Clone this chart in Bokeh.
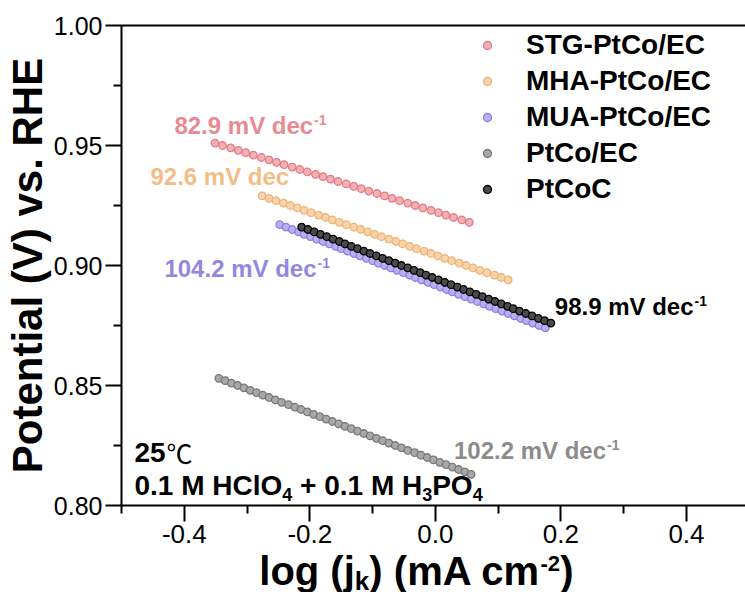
from bokeh.plotting import figure
from bokeh.layouts import column
from bokeh.models import (Range1d, FixedTicker, PrintfTickFormatter, LinearAxis,
                          Label, Legend, LegendItem, ColumnDataSource)
from bokeh.embed import file_html
from bokeh.resources import INLINE

# ---------------- data ----------------
stg_x = [-0.351, -0.339, -0.326, -0.314, -0.302, -0.290, -0.277, -0.265, -0.253, -0.241,
         -0.228, -0.216, -0.204, -0.191, -0.179, -0.167, -0.155, -0.142, -0.130, -0.118,
         -0.106, -0.093, -0.081, -0.069, -0.057, -0.044, -0.032, -0.020, -0.007, 0.005,
         0.017, 0.029, 0.042, 0.054]
stg_y = [0.951, 0.950, 0.949, 0.948, 0.947, 0.946, 0.945, 0.944, 0.943, 0.942,
         0.941, 0.940, 0.939, 0.938, 0.937, 0.936, 0.935, 0.934, 0.933, 0.932,
         0.931, 0.930, 0.929, 0.928, 0.927, 0.926, 0.925, 0.924, 0.923, 0.922,
         0.921, 0.920, 0.919, 0.918]

mha_x = [-0.276, -0.265, -0.254, -0.242, -0.231, -0.220, -0.209, -0.198, -0.186, -0.175,
         -0.164, -0.153, -0.142, -0.130, -0.119, -0.108, -0.097, -0.086, -0.074, -0.063,
         -0.052, -0.041, -0.030, -0.018, -0.007, 0.004, 0.015, 0.026, 0.038, 0.049,
         0.060, 0.071, 0.082, 0.094, 0.105, 0.116]
mha_y = [0.929, 0.928, 0.927, 0.926, 0.925, 0.924, 0.923, 0.922, 0.921, 0.920,
         0.919, 0.918, 0.917, 0.916, 0.915, 0.914, 0.913, 0.912, 0.911, 0.910,
         0.909, 0.908, 0.907, 0.906, 0.905, 0.904, 0.903, 0.902, 0.901, 0.900,
         0.899, 0.898, 0.897, 0.896, 0.895, 0.894]

mua_x = [-0.248, -0.238, -0.228, -0.218, -0.209, -0.199, -0.189, -0.179, -0.169, -0.159,
         -0.150, -0.140, -0.130, -0.120, -0.110, -0.100, -0.091, -0.081, -0.071, -0.061,
         -0.051, -0.041, -0.032, -0.022, -0.012, -0.002, 0.008, 0.018, 0.027, 0.037,
         0.047, 0.057, 0.067, 0.077, 0.086, 0.096, 0.106, 0.116, 0.126, 0.136,
         0.145, 0.155, 0.165, 0.175]
mua_y = [0.917, 0.916, 0.915, 0.914, 0.913, 0.912, 0.911, 0.910, 0.909, 0.908,
         0.907, 0.906, 0.905, 0.904, 0.903, 0.902, 0.901, 0.900, 0.899, 0.898,
         0.897, 0.896, 0.895, 0.894, 0.893, 0.892, 0.891, 0.890, 0.889, 0.888,
         0.887, 0.886, 0.885, 0.884, 0.883, 0.882, 0.881, 0.880, 0.879, 0.878,
         0.877, 0.876, 0.875, 0.874]

ptcoec_x = [-0.345, -0.335, -0.325, -0.315, -0.305, -0.295, -0.285, -0.275, -0.265, -0.255,
            -0.245, -0.234, -0.224, -0.214, -0.204, -0.194, -0.184, -0.174, -0.164, -0.154,
            -0.144, -0.134, -0.124, -0.114, -0.104, -0.094, -0.084, -0.074, -0.064, -0.054,
            -0.044, -0.033, -0.023, -0.013, -0.003, 0.007, 0.017, 0.027, 0.037, 0.047,
            0.057]
ptcoec_y = [0.853, 0.852, 0.851, 0.850, 0.849, 0.848, 0.847, 0.846, 0.845, 0.844,
            0.843, 0.842, 0.841, 0.840, 0.839, 0.838, 0.837, 0.836, 0.835, 0.834,
            0.833, 0.832, 0.831, 0.830, 0.829, 0.828, 0.827, 0.826, 0.825, 0.824,
            0.823, 0.822, 0.821, 0.820, 0.819, 0.818, 0.817, 0.816, 0.815, 0.814,
            0.813]

ptcoc_x = [-0.213, -0.203, -0.193, -0.183, -0.173, -0.163, -0.153, -0.144, -0.134, -0.124,
           -0.114, -0.104, -0.094, -0.084, -0.074, -0.064, -0.054, -0.044, -0.034, -0.024,
           -0.015, -0.005, 0.005, 0.015, 0.025, 0.035, 0.045, 0.055, 0.065, 0.075,
           0.085, 0.095, 0.105, 0.115, 0.124, 0.134, 0.144, 0.154, 0.164, 0.174,
           0.184]
ptcoc_y = [0.916, 0.915, 0.914, 0.913, 0.912, 0.911, 0.910, 0.909, 0.908, 0.907,
           0.906, 0.905, 0.904, 0.903, 0.902, 0.901, 0.900, 0.899, 0.898, 0.897,
           0.896, 0.895, 0.894, 0.893, 0.892, 0.891, 0.890, 0.889, 0.888, 0.887,
           0.886, 0.885, 0.884, 0.883, 0.882, 0.881, 0.880, 0.879, 0.878, 0.877,
           0.876]

series_names = ["STG-PtCo/EC", "MHA-PtCo/EC", "MUA-PtCo/EC", "PtCo/EC", "PtCoC"]
tafel_labels = ["82.9 mV dec", "92.6 mV dec", "104.2 mV dec", "102.2 mV dec", "98.9 mV dec"]

x_major_ticks = [-0.4, -0.2, 0.0, 0.2, 0.4]
x_minor_ticks = [-0.5, -0.3, -0.1, 0.1, 0.3]
y_major_ticks = [0.80, 0.85, 0.90, 0.95, 1.00]
y_minor_ticks = [0.825, 0.875, 0.925, 0.975]

# ---------------- styling ----------------
FONT = "Liberation Sans"
line_cols = ["#e27c85", "#efb377", "#8b7de0", "#777777", "#000000"]
fill_cols = ["#f3b1b6", "#f8d4ad", "#b9b0f2", "#a8a8a8", "#4a4a4a"]
text_cols = ["#e88a91", "#f2bd86", "#9487e2", "#8c8c8c", "#000000"]

p = figure(width=745, height=552, output_backend="svg", toolbar_location=None,
           x_range=Range1d(-0.5, 0.494), y_range=Range1d(0.80, 1.00),
           min_border_left=120, min_border_right=0, min_border_top=25,
           min_border_bottom=47, background_fill_color="white",
           border_fill_color="white")
p.grid.visible = False
p.outline_line_color = None

for ax in (p.xaxis[0], p.yaxis[0]):
    ax.axis_line_width = 2
    ax.major_tick_line_width = 2
    ax.minor_tick_line_width = 2
    ax.major_tick_out = 16
    ax.major_tick_in = 0
    ax.minor_tick_out = 8
    ax.minor_tick_in = 0
    ax.major_label_text_font = FONT
    ax.major_label_text_color = "black"

p.xaxis.major_label_text_font_size = "26px"
p.yaxis.major_label_text_font_size = "25px"
p.xaxis.ticker = FixedTicker(ticks=x_major_ticks, minor_ticks=x_minor_ticks)
p.yaxis.ticker = FixedTicker(ticks=y_major_ticks, minor_ticks=y_minor_ticks)
p.xaxis.formatter = PrintfTickFormatter(format="%.1f")
p.yaxis.formatter = PrintfTickFormatter(format="%.2f")
p.xaxis.major_label_standoff = 3
p.yaxis.major_label_standoff = 3

p.yaxis.axis_label = "Potential (V) vs. RHE"
p.yaxis.axis_label_text_font = FONT
p.yaxis.axis_label_text_font_size = "42px"
p.yaxis.axis_label_text_font_style = "bold"
p.yaxis.axis_label_text_color = "black"
p.yaxis.axis_label_standoff = 0

top_axis = LinearAxis(ticker=FixedTicker(ticks=[]), axis_line_width=2,
                      major_tick_out=0, minor_tick_out=0,
                      major_label_text_font_size="0px")
p.add_layout(top_axis, "above")

# ---------------- data series ----------------
xs = [stg_x, mha_x, mua_x, ptcoec_x, ptcoc_x]
ys = [stg_y, mha_y, mua_y, ptcoec_y, ptcoc_y]
renderers = []
for i in range(5):
    src = ColumnDataSource(dict(x=xs[i], y=ys[i]))
    r = p.scatter("x", "y", source=src, size=7.5, marker="circle",
                  fill_color=fill_cols[i], line_color=line_cols[i], line_width=1.3)
    renderers.append(r)

legend = Legend(items=[LegendItem(label=series_names[i], renderers=[renderers[i]]) for i in range(5)],
                location=(356, 300), orientation="vertical",
                background_fill_alpha=0, border_line_color=None,
                label_text_font=FONT, label_text_font_size="28px",
                label_text_font_style="bold", label_text_color="black",
                glyph_width=20, glyph_height=32, label_height=32,
                spacing=4, padding=0, margin=0, label_standoff=29)
p.add_layout(legend)

# ---------------- annotations ----------------
def px2x(px):
    return -0.5 + (px - 120) / 628.8

def py2y(py):
    return 1.0 - (py - 25) / 2400.0

def add_text(fig, x, y, text, size, color="black", style="bold", dx=0, dy=0, font=FONT):
    # the label box is anchored at its bottom (incl. descent): lift by ~0.3 em
    fig.add_layout(Label(x=x, y=y, text=text, x_offset=dx, y_offset=dy + 0.3 * size,
                         text_font=font, text_font_size=f"{size}px", text_font_style=style,
                         text_color=color, text_baseline="alphabetic", text_align="left"))

# Tafel slopes (main text 24px bold, superscript "-1")
ann = [  # (series index, left px, baseline px, width of main text in px, has superscript)
    (0, 173, 132, 138.7, True),
    (1, 149, 183, 138.7, False),
    (2, 163, 275, 152.1, True),
    (3, 453, 457, 152.1, True),
    (4, 554, 313, 138.7, True),
]
for idx, lx, by, w, sup in ann:
    add_text(p, px2x(lx), py2y(by), tafel_labels[idx], 24, text_cols[idx])
    if sup:
        add_text(p, px2x(lx), py2y(by), "-1", 14, text_cols[idx], dx=w + 1, dy=8)

# conditions
cx, cy1, cy2 = px2x(133), py2y(460), py2y(493)
add_text(p, cx, cy1, "25", 28)
add_text(p, cx, cy1, "\u2103", 26, style="normal", dx=32, font="Noto Sans CJK SC")
add_text(p, cx, cy2, "0.1 M HClO", 28)
add_text(p, cx, cy2, "4", 18, dx=147.8, dy=-6)
add_text(p, cx, cy2, "+ 0.1 M H", 28, dx=165.6)
add_text(p, cx, cy2, "3", 18, dx=287.7, dy=-6)
add_text(p, cx, cy2, "PO", 28, dx=297.7)
add_text(p, cx, cy2, "4", 18, dx=338.2, dy=-6)

# ---------------- x axis title strip (below the plot, same x scale) ----------------
p2 = figure(width=745, height=40, output_backend="svg", toolbar_location=None,
            x_range=p.x_range, y_range=Range1d(0, 40),
            min_border=0, min_border_left=120, min_border_right=0,
            min_border_top=0, min_border_bottom=0,
            background_fill_color="white", border_fill_color="white")
p2.axis.visible = False
p2.grid.visible = False
p2.outline_line_color = None

tx, ty = px2x(258), 10
add_text(p2, tx, ty, "log (j", 40)
add_text(p2, tx, ty, "k", 26, dx=95.6, dy=-6)
add_text(p2, tx, ty, ") (mA cm", 40, dx=110.1)
add_text(p2, tx, ty, "-2", 22, dx=281.2, dy=12)
add_text(p2, tx, ty, ")", 40, dx=301.0)

layout = column(p, p2, spacing=0)
open("out.html", "w").write(file_html(layout, INLINE))
